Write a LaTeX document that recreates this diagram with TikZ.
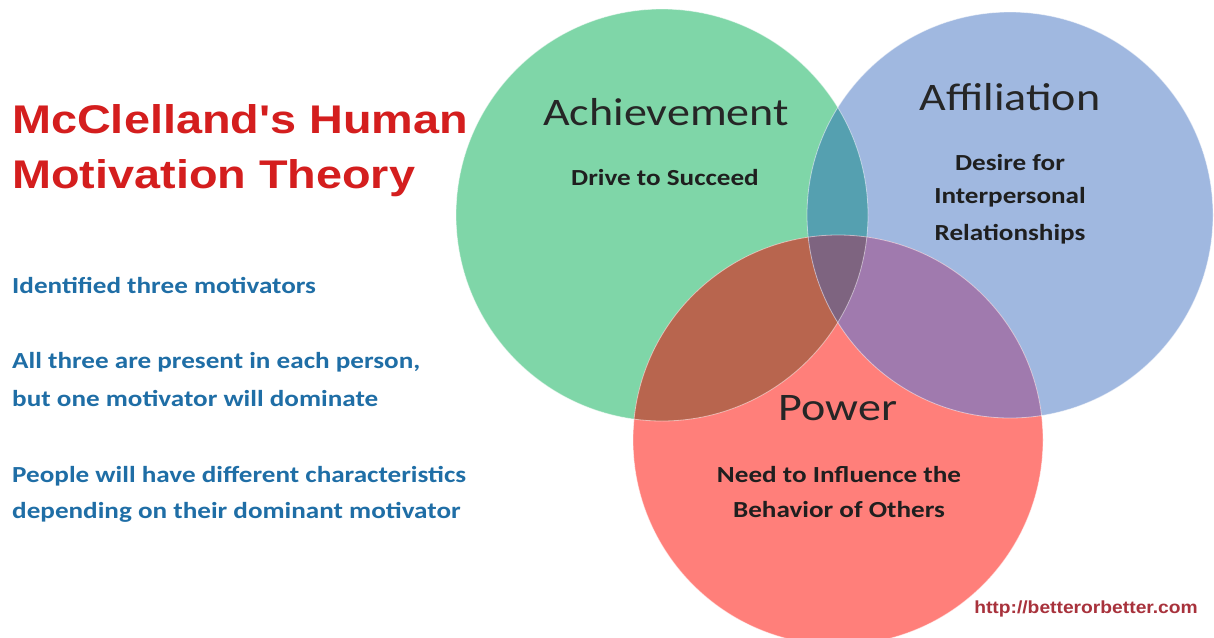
\documentclass[tikz,border=0pt]{standalone}
\usepackage{fontspec}
\setmainfont{Carlito}
\newfontfamily\titlefont[FakeStretch=1.17]{Liberation Sans}
\newfontfamily\labfont[FakeStretch=1.18]{Carlito}
\newfontfamily\urlfont[FakeStretch=1.1]{Liberation Sans}
\definecolor{gr}{HTML}{7FD6A8}
\definecolor{bl}{HTML}{A0B8E0}
\definecolor{rd}{HTML}{FF7F7A}
\definecolor{gb}{HTML}{55A0B0}
\definecolor{grd}{HTML}{B8654E}
\definecolor{brd}{HTML}{A07AAE}
\definecolor{all}{HTML}{7E6480}
\definecolor{titlered}{HTML}{D41E1E}
\definecolor{txtblue}{HTML}{1F6EA6}
\definecolor{urlred}{HTML}{A8323C}
\tikzset{
  titletxt/.style={anchor=base west,inner sep=0,text=titlered,font=\titlefont\bfseries\fontsize{40}{44}\selectfont},
  bluetxt/.style={anchor=base west,inner sep=0,text=txtblue,font=\labfont\bfseries\fontsize{23}{26}\selectfont},
  headtxt/.style={anchor=base,inner sep=0,text=black!85,font=\labfont\fontsize{39}{44}\selectfont},
  desctxt/.style={anchor=base,inner sep=0,text=black!88,font=\labfont\bfseries\fontsize{23}{26}\selectfont},
  urltxt/.style={anchor=base east,inner sep=0,text=urlred,font=\urlfont\bfseries\fontsize{17.5}{20}\selectfont},
  edge/.style={draw=white,draw opacity=0.5,line width=0.8pt}
}
\begin{document}
\begin{tikzpicture}[x=1pt,y=-1pt]
\useasboundingbox (0,0) rectangle (1214,637);
\fill[white] (0,0) rectangle (1214,637);
\begin{scope}
\clip (0,0) rectangle (1214,637);
% circles
\fill[gr] (662,215) circle (206);
\fill[bl] (1010,215) circle (203);
\fill[rd] (838,440) circle (205);
\begin{scope}
  \clip (662,215) circle (206);
  \fill[gb] (1010,215) circle (203);
  \fill[grd] (838,440) circle (205);
\end{scope}
\begin{scope}
  \clip (1010,215) circle (203);
  \fill[brd] (838,440) circle (205);
  \clip (662,215) circle (206);
  \fill[all] (838,440) circle (205);
\end{scope}
\draw[edge] (662,215) circle (206);
\draw[edge] (1010,215) circle (203);
\draw[edge] (838,440) circle (205);
\end{scope}
% title
\node[titletxt] (t1) at (12,133) {McClelland's Human};
\node[titletxt] (t2) at (12,188) {Motivation Theory};
% left text
\node[bluetxt] (b1) at (12,293) {Identified three motivators};
\node[bluetxt] (b2) at (12,368) {All three are present in each person,};
\node[bluetxt] (b3) at (12,406) {but one motivator will dominate};
\node[bluetxt] (b4) at (12,482) {People will have different characteristics};
\node[bluetxt] (b5) at (12,518) {depending on their dominant motivator};
% circle labels
\node[headtxt] (ach) at (666,125) {Achievement};
\node[desctxt] (achd) at (665,185) {Drive to Succeed};
\node[headtxt] (aff) at (1010,110) {Affiliation};
\node[desctxt] (aff1) at (1010,170) {Desire for};
\node[desctxt] (aff2) at (1010,203) {Interpersonal};
\node[desctxt] (aff3) at (1010,240) {Relationships};
\node[headtxt] (pow) at (838,420) {Power};
\node[desctxt] (pow1) at (839,482) {Need to Influence the};
\node[desctxt] (pow2) at (839,517) {Behavior of Others};
% url
\node[urltxt] (url) at (1198,613) {http://betterorbetter.com};
\end{tikzpicture}
\end{document}
